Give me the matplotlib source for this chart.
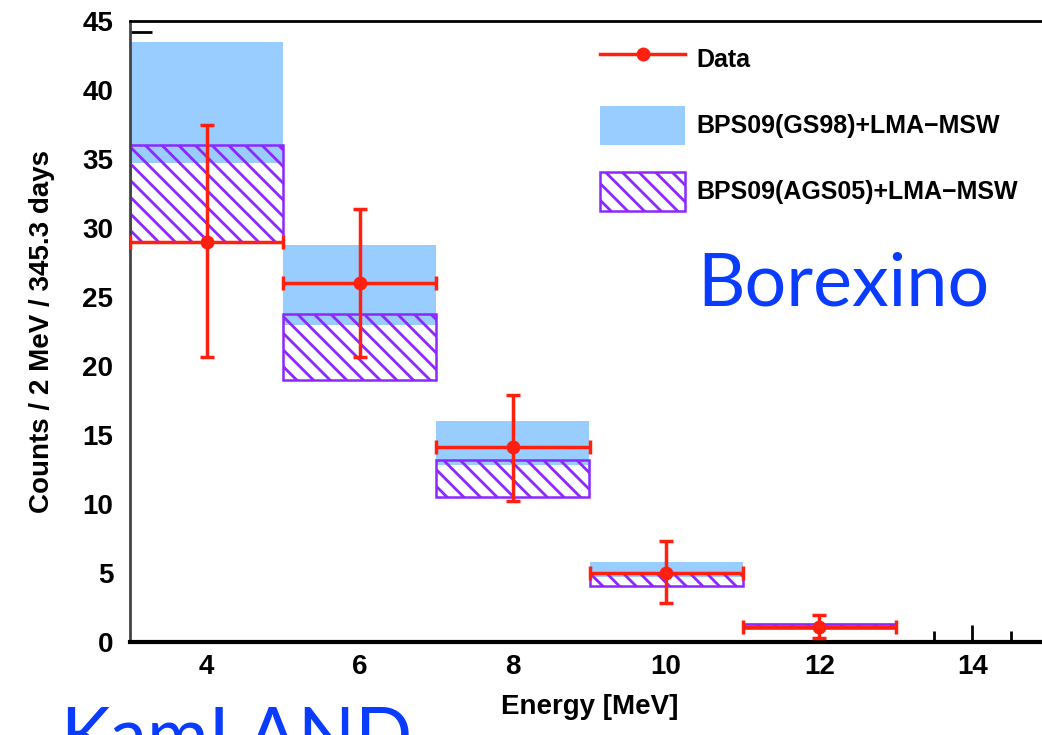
import matplotlib
matplotlib.use("Agg")
import matplotlib.pyplot as plt
from matplotlib.lines import Line2D
import numpy as np

# ---- data ----
energy = [4, 6, 8, 10, 12]
bin_width = 2.0
gs98_low = [34.7, 23.0, 12.8, 4.7, 1.0]
gs98_high = [43.5, 28.8, 16.0, 5.8, 1.4]
ags05_low = [29.0, 19.0, 10.5, 4.06, 1.0]
ags05_high = [36.0, 23.8, 13.2, 5.0, 1.3]
counts = [29.0, 26.0, 14.1, 5.0, 1.1]
err_low = [8.35, 5.35, 3.9, 2.2, 0.8]
err_high = [8.5, 5.4, 3.8, 2.3, 0.85]
xticks = [4, 6, 8, 10, 12, 14]
yticks = [0, 5, 10, 15, 20, 25, 30, 35, 40, 45]

RED = "#ff2010"
PURPLE = "#8c28ff"
BLUE = "#99ccff"

plt.rcParams["font.family"] = ["Liberation Sans", "DejaVu Sans"]
plt.rcParams["font.weight"] = "bold"
plt.rcParams["hatch.linewidth"] = 2.0

fig = plt.figure(figsize=(10.42, 7.35), dpi=100)
ax = fig.add_axes([130 / 1042, 1 - 642 / 735, 919 / 1042, 621 / 735])

e = np.array(energy)
blue = ax.bar(e, np.array(gs98_high) - np.array(gs98_low), bottom=gs98_low,
              width=bin_width, color=BLUE, edgecolor="none", linewidth=0,
              zorder=1)
purple = ax.bar(e, np.array(ags05_high) - np.array(ags05_low),
                bottom=ags05_low, width=bin_width, fill=False,
                hatch="\\\\", edgecolor=PURPLE, linewidth=1.8, zorder=2)
ax.errorbar(e, counts, xerr=bin_width / 2, yerr=[err_low, err_high],
            fmt="o", color=RED, ms=9, elinewidth=2.5, capsize=5,
            capthick=2.5, zorder=3)

ax.set_xlim(3, 15)
ax.set_ylim(0, 45)
ax.set_xticks(xticks)
ax.set_yticks(yticks)
ax.tick_params(axis="both", labelsize=20)
ax.tick_params(axis="x", direction="in", length=12, width=2, pad=9)
ax.tick_params(axis="y", length=0, pad=12)
for t, loc in zip(ax.xaxis.get_major_ticks(), xticks):
    if loc != 14:
        t.tick1line.set_visible(False)
ax.set_xticks([13.5, 14.5], minor=True)
ax.tick_params(axis="x", which="minor", direction="in", length=8, width=2)
ax.set_yticks([44.2], minor=True)
ax.tick_params(axis="y", which="minor", direction="in", length=16, width=2)

ax.spines["left"].set_color("#444444")
ax.spines["left"].set_linewidth(2)
ax.spines["bottom"].set_linewidth(3)
ax.spines["top"].set_linewidth(2)
ax.spines["right"].set_visible(False)

ax.set_xlabel("Energy [MeV]", fontsize=20, fontweight="bold", labelpad=10)
ax.set_ylabel("Counts / 2 MeV / 345.3 days", fontsize=20, fontweight="bold",
              labelpad=20)

data_handle = Line2D([], [], color=RED, lw=2.5, marker="o", ms=9)
leg = fig.legend([data_handle, blue, purple],
                 ["Data", "BPS09(GS98)+LMA\u2212MSW",
                  "BPS09(AGS05)+LMA\u2212MSW"],
                 loc="upper left", bbox_to_anchor=(600 / 1042, 1 - 40 / 735),
                 frameon=False, fontsize=18, handlelength=3.4,
                 handleheight=2.0, labelspacing=1.1, handletextpad=0.45,
                 borderpad=0, borderaxespad=0)

fig.text(697 / 1042, 1 - 305 / 735, "Borexino", color="#0a3cff",
         fontsize=53, family="Lato", fontweight="normal", ha="left",
         va="baseline")
fig.text(60 / 1042, 1 - 761 / 735, "KamLAND", color="#0a3cff",
         fontsize=54, family="Lato", fontweight="normal", ha="left",
         va="baseline")

fig.savefig("out.png", dpi=100)
